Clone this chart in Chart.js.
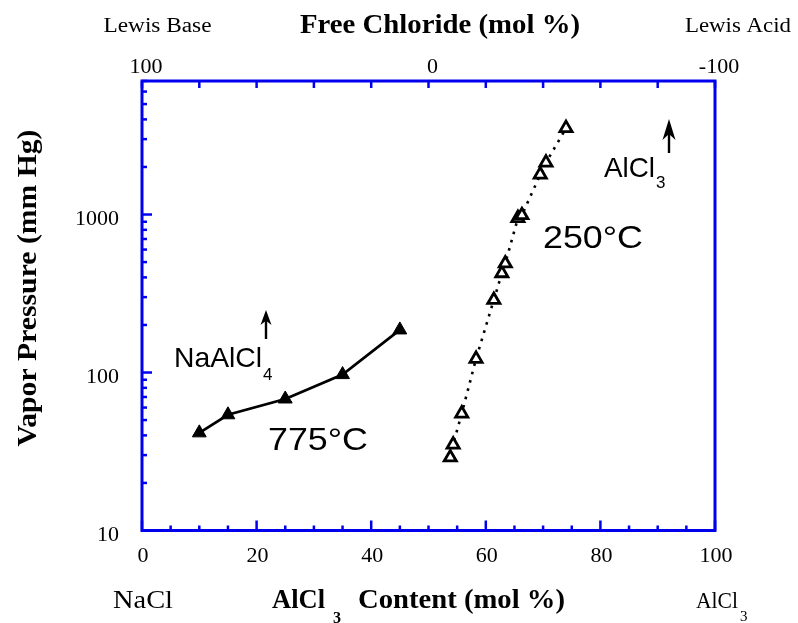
<!DOCTYPE html>
<html><head><meta charset="utf-8">
<script src="https://cdn.jsdelivr.net/npm/chart.js@4.4.0/dist/chart.umd.min.js"></script>
<style>html,body{margin:0;padding:0;background:#fff;}canvas{display:block}</style>
</head><body>
<canvas id="c" width="798" height="623"></canvas>
<script>
// ---- data ----
const x775 = [10, 15, 25, 35, 45];
const y775 = [41.5, 54, 68, 97, 186];
const x250 = [53.8, 54.3, 55.8, 58.3, 61.4, 62.8, 63.4, 65.6, 66.3, 69.5, 70.5, 74.0];
const y250 = [29, 35, 55, 122, 288, 425, 490, 950, 990, 1790, 2130, 3520];
const bottomTicks = [0, 20, 40, 60, 80, 100];
const topTicks = [100, 0, -100];
const yTicks = [10, 100, 1000];

const BLUE = '#0000ee';
const SERIF = '"Liberation Serif", "Times New Roman", serif';
const SANS = '"Liberation Sans", Arial, sans-serif';

function txt(ctx, s, x, y, font, align, w) {
  ctx.save();
  ctx.font = font;
  const m = ctx.measureText(s).width;
  const sx = w ? w / m : 1;
  ctx.translate(x, y);
  ctx.scale(sx, 1);
  ctx.textAlign = align;
  ctx.textBaseline = 'alphabetic';
  ctx.fillStyle = '#000';
  ctx.fillText(s, 0, 0);
  ctx.restore();
}
function arrow(ctx, x, yTip, yBot, headLen, halfW) {
  ctx.save();
  ctx.strokeStyle = '#000'; ctx.fillStyle = '#000'; ctx.lineWidth = 2.4;
  ctx.beginPath(); ctx.moveTo(x, yBot); ctx.lineTo(x, yTip + headLen * 0.6); ctx.stroke();
  ctx.beginPath();
  ctx.moveTo(x, yTip);
  ctx.lineTo(x + halfW, yTip + headLen);
  ctx.lineTo(x, yTip + headLen * 0.72);
  ctx.lineTo(x - halfW, yTip + headLen);
  ctx.closePath(); ctx.fill();
  ctx.restore();
}

const frame = {
  id: 'frame',
  afterDatasetsDraw(chart) {
    const ctx = chart.ctx;
    const a = chart.chartArea;
    const xs = chart.scales.x, ys = chart.scales.y, xt = chart.scales.xTop;
    ctx.save();
    ctx.strokeStyle = BLUE;
    ctx.lineWidth = 2.5;
    for (const d of [10, 100, 1000]) {
      for (let k = 1; k <= 9; k++) {
        const v = k * d;
        if (v > ys.max) continue;
        const py = ys.getPixelForValue(v);
        const len = k === 1 ? 10 : 5;
        ctx.beginPath(); ctx.moveTo(a.left, py); ctx.lineTo(a.left + len, py); ctx.stroke();
      }
    }
    for (let v = 0; v <= 100; v += 5) {
      const px = xs.getPixelForValue(v);
      const len = v % 20 === 0 ? 10 : 5;
      ctx.beginPath(); ctx.moveTo(px, a.bottom); ctx.lineTo(px, a.bottom - len); ctx.stroke();
    }
    for (let v = -100; v <= 100; v += 20) {
      const px = xt.getPixelForValue(v);
      ctx.beginPath(); ctx.moveTo(px, a.top); ctx.lineTo(px, a.top + 7); ctx.stroke();
    }
    ctx.lineWidth = 3;
    ctx.strokeRect(a.left, a.top, a.right - a.left, a.bottom - a.top);
    ctx.restore();

    const tf = '22px ' + SERIF;
    for (const v of bottomTicks) txt(ctx, String(v), xs.getPixelForValue(v) + 1, 562, tf, 'center', null);
    for (const v of topTicks) txt(ctx, String(v), xt.getPixelForValue(v) + 4, 73, tf, 'center', null);
    for (const v of yTicks) txt(ctx, String(v), 119, ys.getPixelForValue(v) + 10.5, tf, 'right', null);

    const bf = 'bold 28px ' + SERIF;
    txt(ctx, 'Free Chloride (mol %)', 440, 33, bf, 'center', 280);
    txt(ctx, 'Lewis Base', 157.5, 32, '20px ' + SERIF, 'center', 108);
    txt(ctx, 'Lewis Acid', 738, 32, '20px ' + SERIF, 'center', 106);
    txt(ctx, 'NaCl', 143, 608, '25px ' + SERIF, 'center', 60);
    txt(ctx, 'AlCl', 272, 608, bf, 'left', 53);
    txt(ctx, '3', 333, 623, 'bold 16px ' + SERIF, 'left', null);
    txt(ctx, 'Content (mol %)', 358, 608, bf, 'left', 207);
    txt(ctx, 'AlCl', 717, 608, '23px ' + SERIF, 'center', 42);
    txt(ctx, '3', 740, 621, '15px ' + SERIF, 'left', null);

    ctx.save();
    ctx.translate(36, 288);
    ctx.rotate(-Math.PI / 2);
    ctx.font = bf;
    const m = ctx.measureText('Vapor Pressure (mm Hg)').width;
    ctx.scale(317 / m, 1);
    ctx.textAlign = 'center'; ctx.fillStyle = '#000';
    ctx.fillText('Vapor Pressure (mm Hg)', 0, 0);
    ctx.restore();

    txt(ctx, 'NaAlCl', 174, 367, '28px ' + SANS, 'left', 88);
    txt(ctx, '4', 263, 380, '17px ' + SANS, 'left', null);
    arrow(ctx, 266, 310, 339, 15, 5.5);
    txt(ctx, '775°C', 268, 450, '32px ' + SANS, 'left', 100);
    txt(ctx, '250°C', 543, 248, '32px ' + SANS, 'left', 100);
    txt(ctx, 'AlCl', 604, 177, '28px ' + SANS, 'left', 51);
    txt(ctx, '3', 656, 188, '17px ' + SANS, 'left', null);
    arrow(ctx, 669, 119, 153, 21, 6.5);
  }
};

new Chart(document.getElementById('c'), {
  type: 'scatter',
  data: {
    datasets: [
      {
        data: x775.map((x, i) => ({ x, y: y775[i] })),
        showLine: true,
        borderColor: '#000', borderWidth: 2.7,
        pointStyle: 'triangle', pointRadius: 8,
        pointBackgroundColor: '#000', pointBorderColor: '#000', pointBorderWidth: 1
      },
      {
        data: x250.map((x, i) => ({ x, y: y250[i] })),
        showLine: true,
        borderColor: '#000', borderWidth: 2.6, borderDash: [2.6, 6],
        pointStyle: 'triangle', pointRadius: 7,
        pointBackgroundColor: '#fff', pointBorderColor: '#000', pointBorderWidth: 2.8
      }
    ]
  },
  options: {
    responsive: false,
    animation: false,
    events: [],
    layout: { padding: { left: 142, right: 83, top: 81, bottom: 92.5 } },
    plugins: { legend: { display: false }, tooltip: { enabled: false } },
    scales: {
      x: { type: 'linear', min: 0, max: 100, display: false },
      xTop: { type: 'linear', position: 'top', min: -100, max: 100, reverse: true, display: false },
      y: { type: 'logarithmic', min: 10, max: 7000, display: false }
    }
  },
  plugins: [frame]
});
</script>
</body></html>
